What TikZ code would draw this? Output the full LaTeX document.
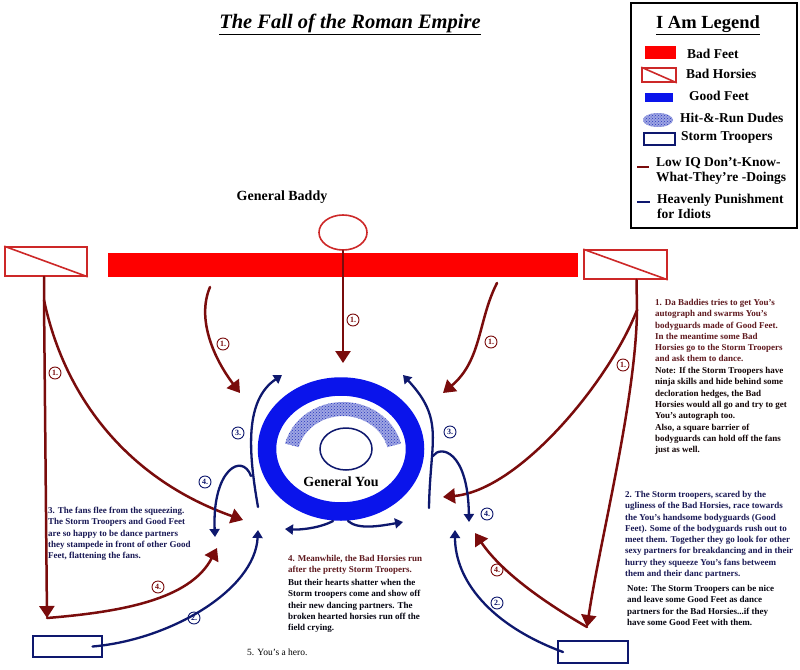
\documentclass[tikz,border=0pt]{standalone}
\usepackage{fontspec}
\setmainfont{Liberation Serif}
\usepackage{xcolor}
\definecolor{badfeet}{RGB}{254,0,0}
\definecolor{horsered}{RGB}{205,40,40}
\definecolor{lowiq}{RGB}{122,12,12}
\definecolor{heaven}{RGB}{14,24,110}
\definecolor{goodfeet}{RGB}{10,20,235}
\definecolor{hitblue}{RGB}{40,55,190}
\definecolor{redtext}{RGB}{95,25,30}
\definecolor{navytext}{RGB}{25,25,85}
\usetikzlibrary{shapes.geometric}
\usetikzlibrary{arrows.meta}
\usetikzlibrary{patterns}
\usetikzlibrary{calc}

\begin{document}
\begin{tikzpicture}[x=1pt, y=-1pt,
  horsebox/.style={rectangle, draw=horsered, line width=1.6pt, inner sep=0pt},
  stormbox/.style={rectangle, draw=heaven, line width=1.6pt, inner sep=0pt},
  lowline/.style={lowiq, line width=2.5pt, line cap=round, -{Triangle[length=12pt,width=15pt]}},
  heavenline/.style={heaven, line width=2.3pt, line cap=round, -{Triangle[length=8pt,width=10pt]}},
  numlabel/.style={circle, draw, line width=0.9pt, inner sep=0pt, minimum size=12pt, font=\fontsize{8}{8}\selectfont\bfseries},
  stepnote/.style={anchor=north west, align=left, inner sep=0pt, font=\fontsize{9}{11.3}\selectfont\bfseries},
  legtext/.style={anchor=west, align=left, inner sep=0pt, font=\fontsize{13.5}{15}\selectfont\bfseries},
  hitband/.style={pattern=crosshatch dots, pattern color=hitblue, preaction={fill=hitblue!45}}]

  \fill[white] (0,0) rectangle (800,669);
  \useasboundingbox (0,0) rectangle (800,669);

  \node (title) at (350,24) {\fontsize{20.5}{24}\selectfont\bfseries\itshape\underline{The Fall of the Roman Empire}};

  \node[draw, line width=1.4pt, minimum width=166pt, minimum height=225pt, inner sep=0pt] (legend) at (714,115.5) {};
  \node (legendtitle) at (708,25) {\fontsize{18.5}{22}\selectfont\bfseries\underline{I Am Legend}};
  \node[fill=badfeet, minimum width=31pt, minimum height=13pt, inner sep=0pt] (kfeet) at (660.5,52.5) {};
  \node[legtext] (kfeettext) at (687,54) {Bad Feet};
  \node[horsebox, minimum width=34pt, minimum height=14pt] (khorse) at (659,75) {};
  \draw[horsered, line width=1.6pt] (khorse.north west) -- (khorse.south east);
  \node[legtext] (khorsetext) at (686,74) {Bad Horsies};
  \node[fill=goodfeet, minimum width=28pt, minimum height=9pt, inner sep=0pt] (kgood) at (659,97.5) {};
  \node[legtext] (kgoodtext) at (689,96) {Good Feet};
  \node[ellipse, hitband, minimum width=30pt, minimum height=14pt, inner sep=0pt] (khit) at (658,120) {};
  \node[legtext] (khittext) at (680,118) {Hit-\&-Run Dudes};
  \node[stormbox, minimum width=31pt, minimum height=12pt] (kstorm) at (659.5,139) {};
  \node[legtext] (kstormtext) at (681,137) {Storm Troopers};
  \draw[lowiq, line width=2pt] (637,167) -- (649,167);
  \node[legtext] (klowtext) at (656,171) {Low IQ Don't-Know-\\What-They're -Doings};
  \draw[heaven, line width=2pt] (637,202) -- (650,202);
  \node[legtext] (kheaventext) at (657,206) {Heavenly Punishment\\for Idiots};

  \node (baddyname) at (282,197) {\fontsize{14}{16}\selectfont\bfseries General Baddy};
  \node[ellipse, draw=horsered, line width=1.6pt, minimum width=48pt, minimum height=35pt, inner sep=0pt] (baddy) at (343,232.5) {};
  \node[fill=badfeet, minimum width=470pt, minimum height=24pt, inner sep=0pt] (feet) at (343,265) {};
  \node[horsebox, minimum width=82pt, minimum height=29pt] (horseL) at (46,261.5) {};
  \draw[horsered, line width=1.6pt] (horseL.north west) -- (horseL.south east);
  \node[horsebox, minimum width=83pt, minimum height=29pt] (horseR) at (625.5,264.5) {};
  \draw[horsered, line width=1.6pt] (horseR.north west) -- (horseR.south east);

  \node[ellipse, draw=goodfeet, line width=18.5pt, minimum width=148pt, minimum height=125pt, inner sep=0pt] (ring) at (341,449) {};
  \fill[hitband] (343,458) ++(195:60 and 56) arc[start angle=195, end angle=345, x radius=60, y radius=56]
    -- ($(343,458)+(345:46 and 42)$) arc[start angle=345, end angle=195, x radius=46, y radius=42] -- cycle;
  \node[ellipse, draw=heaven, line width=1.5pt, minimum width=52pt, minimum height=42pt, inner sep=0pt] (you) at (346,449) {};
  \node (youname) at (341,482) {\fontsize{14}{16}\selectfont\bfseries General You};

  \node[stormbox, minimum width=69pt, minimum height=21pt] (stormL) at (67.5,646.5) {};
  \node[stormbox, minimum width=70pt, minimum height=22pt] (stormR) at (593,652) {};

  \coordinate (tipBaddy) at (343,363);
  \coordinate (startFanL) at (210,287);
  \coordinate (tipFanL) at (240,393);
  \coordinate (startFanR) at (497,283);
  \coordinate (tipFanR) at (443,393);
  \coordinate (forkL) at (44,300);
  \coordinate (cornerL) at (47,618);
  \coordinate (tipSweepL) at (243,520);
  \coordinate (tipDanceL) at (217,548);
  \coordinate (forkR) at (637,310);
  \coordinate (cornerR) at (587,627);
  \coordinate (tipSweepR) at (443,497);
  \coordinate (tipDanceR) at (475,533);
  \coordinate (tipStormL) at (258,530);
  \coordinate (tipStormR) at (455,530);
  \coordinate (startFleeL) at (258,507);
  \coordinate (tipFleeL) at (282,375);
  \coordinate (startFleeR) at (429,508);
  \coordinate (tipFleeR) at (403,375);
  \coordinate (startHumpL) at (251,476);
  \coordinate (tipHumpL) at (215,537);
  \coordinate (startHumpR) at (433,456);
  \coordinate (tipHumpR) at (469,522);
  \coordinate (startOffL) at (333,521);
  \coordinate (tipOffL) at (285,529);
  \coordinate (startOffR) at (348,521);
  \coordinate (tipOffR) at (403,522);

  \draw[lowline] (baddy.south) -- (tipBaddy);
  \draw[lowline] (startFanL) .. controls (196,320) and (215,360) .. (tipFanL);
  \draw[lowline] (startFanR) .. controls (478,320) and (482,360) .. (tipFanR);
  \draw[lowline] ([xshift=-2pt]horseL.south) -- (forkL) -- (cornerL);
  \draw[lowline] (forkL) .. controls (65,400) and (130,480) .. (tipSweepL);
  \draw[lowline] (cornerL) .. controls (120,612) and (190,600) .. (tipDanceL);
  \draw[lowline] ([xshift=11pt]horseR.south) -- (forkR) .. controls (636,400) and (600,540) .. (cornerR);
  \draw[lowline] (forkR) .. controls (610,380) and (520,490) .. (tipSweepR);
  \draw[lowline] (cornerR) .. controls (540,600) and (500,570) .. (tipDanceR);

  \draw[heavenline] ([xshift=25pt]stormL.center) .. controls (170,640) and (255,590) .. (tipStormL);
  \draw[heavenline] ([xshift=-30pt]stormR.center) .. controls (490,625) and (455,580) .. (tipStormR);
  \draw[heavenline] (startFleeL) .. controls (248,450) and (245,400) .. (tipFleeL);
  \draw[heavenline] (startFleeR) .. controls (430,440) and (445,420) .. (tipFleeR);
  \draw[heavenline] (startHumpL) .. controls (242,452) and (212,470) .. (tipHumpL);
  \draw[heavenline] (startHumpR) .. controls (440,445) and (468,450) .. (tipHumpR);
  \draw[heavenline] (startOffL) .. controls (320,528) and (300,530) .. (tipOffL);
  \draw[heavenline] (startOffR) .. controls (358,530) and (380,526) .. (tipOffR);

  \node[numlabel, lowiq] (n1c) at (353,320) {1.};
  \node[numlabel, lowiq] (n1fl) at (223,344) {1.};
  \node[numlabel, lowiq] (n1fr) at (491,342) {1.};
  \node[numlabel, lowiq] (n1l) at (55,373) {1.};
  \node[numlabel, lowiq] (n1r) at (623,365) {1.};
  \node[numlabel, lowiq] (n4dl) at (158,587) {4.};
  \node[numlabel, lowiq] (n4dr) at (497,570) {4.};
  \node[numlabel, heaven] (n3l) at (238,433) {3.};
  \node[numlabel, heaven] (n3r) at (450,432) {3.};
  \node[numlabel, heaven] (n4hl) at (205,482) {4.};
  \node[numlabel, heaven] (n4hr) at (487,514) {4.};
  \node[numlabel, heaven] (n2l) at (194,618) {2.};
  \node[numlabel, heaven] (n2r) at (497,603) {2.};

  \node[stepnote, text=redtext] (note1) at (655,299) {1. Da Baddies tries to get You's\\autograph and swarms You's\\bodyguards made of Good Feet.\\In the meantime some Bad\\Horsies go to the Storm Troopers\\and ask them to dance.};
  \node[stepnote, text=black!80!redtext] (note1b) at (655,367) {Note: If the Storm Troopers have\\ninja skills and hide behind some\\decloration hedges, the Bad\\Horsies would all go and try to get\\You's autograph too.\\Also, a square barrier of\\bodyguards can hold off the fans\\just as well.};
  \node[stepnote, text=navytext] (note2) at (625,491) {2. The Storm troopers, scared by the\\ugliness of the Bad Horsies, race towards\\the You's handsome bodyguards (Good\\Feet). Some of the bodyguards rush out to\\meet them. Together they go look for other\\sexy partners for breakdancing and in their\\hurry they squeeze You's fans betweem\\them and their danc partners.};
  \node[stepnote, text=black!80!navytext] (note2b) at (627,585) {Note: The Storm Troopers can be nice\\and leave some Good Feet as dance\\partners for the Bad Horsies...if they\\have some Good Feet with them.};
  \node[stepnote, text=navytext] (note3) at (48,507) {3. The fans flee from the squeezing.\\The Storm Troopers and Good Feet\\are so happy to be dance partners\\they stampede in front of other Good\\Feet, flattening the fans.};
  \node[stepnote, text=redtext] (note4) at (288,555) {4. Meanwhile, the Bad Horsies run\\after the pretty Storm Troopers.};
  \node[stepnote, text=black!80!navytext] (note4b) at (288,579) {But their hearts shatter when the\\Storm troopers come and show off\\their new dancing partners. The\\broken hearted horsies run off the\\field crying.};
  \node[anchor=west, inner sep=0pt, font=\fontsize{9.5}{11}\selectfont] (hero) at (247,652) {5. You's a hero.};

\end{tikzpicture}
\end{document}
